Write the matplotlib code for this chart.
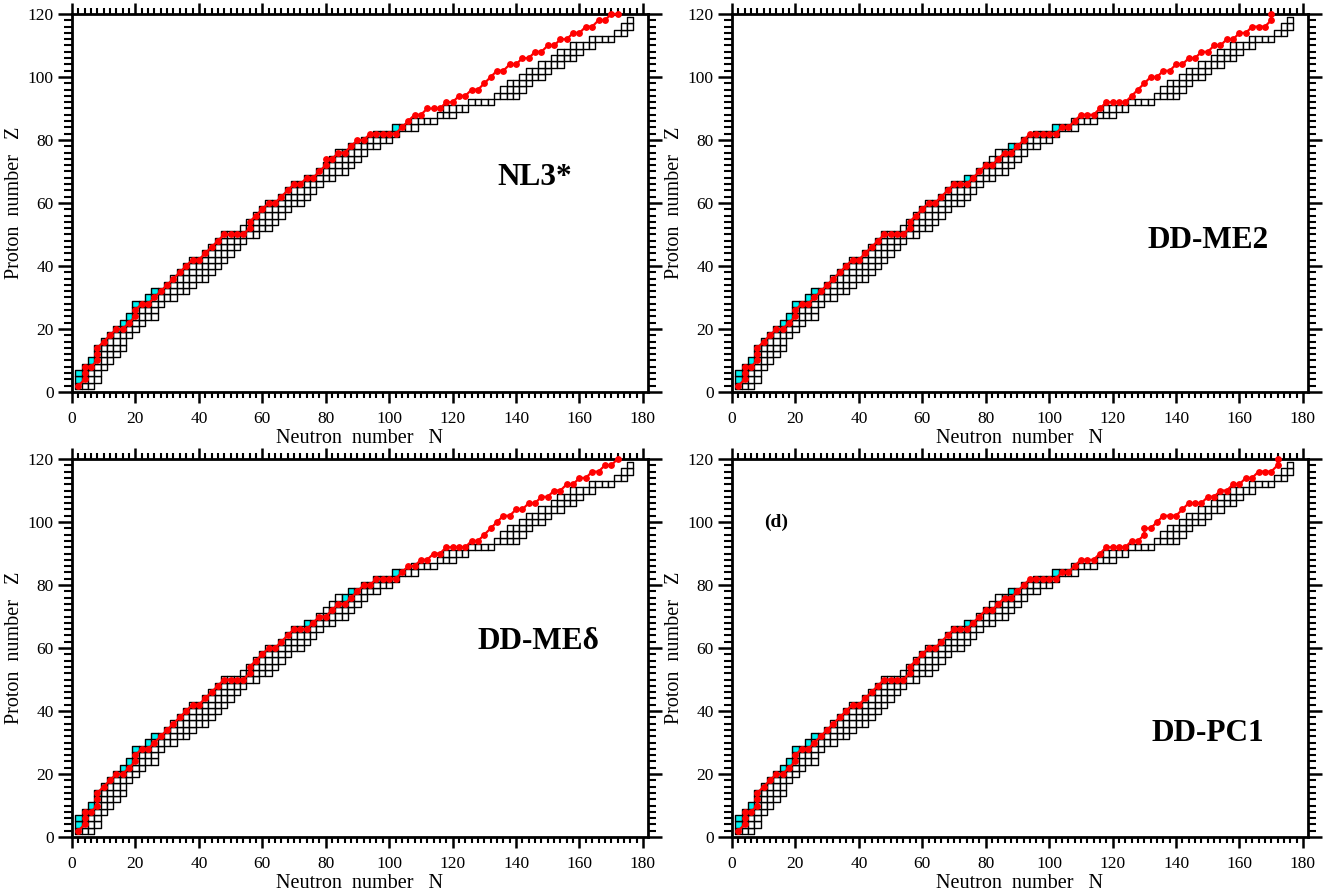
import matplotlib
matplotlib.use("Agg")
import matplotlib.pyplot as plt
from matplotlib.patches import Rectangle
from matplotlib.collections import PatchCollection
from matplotlib.ticker import MultipleLocator

plt.rcParams['font.family'] = ['Liberation Serif', 'DejaVu Serif']

# ---- squares: rows of even-even nuclei (Z, first N, last N) ----
sq_Z    = [2, 4, 6, 8, 10, 12, 14, 16, 18, 20, 22, 24, 26, 28, 30, 32, 34, 36, 38, 40,
           42, 44, 46, 48, 50, 52, 54, 56, 58, 60, 62, 64, 66, 68, 70, 72, 74, 76, 78, 80,
           82, 84, 86, 88, 90, 92, 94, 96, 98, 100, 102, 104, 106, 108, 110, 112, 114, 116, 118]
sq_Nmin = [2, 2, 2, 4, 6, 8, 8, 10, 12, 14, 16, 18, 20, 20, 24, 26, 30, 32, 34, 36,
           38, 42, 44, 46, 48, 54, 56, 58, 60, 62, 66, 68, 70, 74, 78, 80, 82, 84, 88, 92,
           96, 102, 108, 116, 118, 126, 134, 136, 138, 142, 144, 148, 152, 154, 158, 164, 172, 174, 176]
sq_Nmax = [6, 8, 8, 10, 12, 14, 16, 16, 18, 20, 22, 26, 26, 28, 32, 36, 38, 42, 44, 46,
           48, 50, 52, 54, 58, 62, 64, 66, 68, 72, 74, 76, 78, 82, 86, 88, 90, 92, 96, 100,
           102, 108, 114, 120, 124, 132, 140, 142, 144, 148, 150, 154, 158, 160, 164, 170, 174, 176, 176]

# ---- cyan (two-proton unbound) squares ----
cyan_N = [2, 2, 4, 6, 8, 10, 12, 14, 16, 18, 20, 24, 26, 30, 74, 86, 88, 92, 96, 102]
cyan_Z = [4, 6, 8, 10, 14, 16, 18, 20, 22, 24, 28, 30, 32, 34, 68, 76, 78, 80, 82, 84]

# ---- two-proton drip lines ----
low_N = [2, 4, 4, 4, 6, 8, 8, 8, 10, 12, 14, 16, 18, 20, 20, 22, 24, 26, 28, 30, 32, 34, 36, 38, 40,
         42, 44, 46, 48, 50, 52, 54, 56, 56, 58, 60, 62, 64, 66, 68, 70]
low_Z = [2, 4, 6, 8, 8, 10, 12, 14, 16, 18, 20, 20, 22, 24, 26, 28, 28, 30, 32, 34, 36, 38, 40, 42, 42,
         44, 46, 48, 50, 50, 50, 50, 52, 54, 56, 58, 60, 60, 62, 64, 66]

nl3_N = [72, 74, 76, 78, 80, 80, 82, 84, 86, 88, 90, 92, 94, 96, 98, 100, 102, 104, 106, 108, 110, 112,
         114, 116, 118, 120, 122, 124, 126, 128, 130, 132, 134, 136, 138, 140, 142, 144, 146, 148, 150,
         152, 154, 156, 158, 160, 162, 164, 166, 168, 170, 172]
nl3_Z = [66, 68, 68, 70, 72, 74, 74, 76, 76, 78, 80, 80, 82, 82, 82, 82, 82, 84, 86, 88, 88, 90,
         90, 90, 92, 92, 94, 94, 96, 96, 98, 100, 102, 102, 104, 104, 106, 106, 108, 108, 110,
         110, 112, 112, 114, 114, 116, 116, 118, 118, 120, 120]

me2_N = [72, 74, 76, 78, 80, 82, 84, 86, 88, 90, 92, 94, 96, 98, 100, 102, 104, 106, 108, 110, 112, 114,
         116, 118, 120, 122, 124, 126, 128, 130, 132, 134, 136, 138, 140, 142, 144, 146, 148, 150, 152,
         154, 156, 158, 160, 162, 164, 166, 168, 170, 170]
me2_Z = [66, 66, 68, 70, 72, 72, 74, 76, 76, 78, 80, 82, 82, 82, 82, 82, 84, 84, 86, 88, 88, 88,
         90, 92, 92, 92, 92, 94, 96, 98, 100, 100, 102, 102, 104, 104, 106, 106, 108, 108, 110,
         110, 112, 112, 114, 114, 116, 116, 116, 118, 120]

med_N = [72, 74, 76, 78, 80, 82, 84, 86, 88, 90, 92, 94, 96, 98, 100, 102, 104, 106, 108, 110, 112, 114,
         116, 118, 120, 122, 124, 126, 128, 130, 132, 134, 136, 138, 140, 142, 144, 146, 148, 150, 152,
         154, 156, 158, 160, 162, 164, 166, 168, 170, 172]
med_Z = [66, 66, 68, 70, 70, 72, 74, 74, 76, 78, 80, 80, 82, 82, 82, 82, 84, 86, 86, 88, 88, 90,
         90, 92, 92, 92, 92, 94, 94, 96, 98, 100, 102, 102, 104, 104, 106, 106, 108, 108, 110,
         110, 112, 112, 114, 114, 116, 116, 118, 118, 120]

pc1_N = [72, 74, 76, 78, 80, 82, 84, 86, 88, 90, 92, 94, 96, 98, 100, 102, 104, 106, 108, 110, 112, 114,
         116, 118, 120, 122, 124, 126, 128, 130, 130, 132, 134, 136, 138, 140, 142, 144, 146, 148, 150,
         152, 154, 156, 158, 160, 162, 164, 166, 168, 170, 172, 172]
pc1_Z = [66, 66, 68, 70, 72, 72, 74, 76, 76, 78, 80, 82, 82, 82, 82, 82, 84, 84, 86, 88, 88, 88,
         90, 92, 92, 92, 92, 94, 94, 96, 98, 98, 100, 102, 102, 102, 104, 106, 106, 106, 108,
         108, 110, 110, 112, 112, 114, 114, 116, 116, 116, 118, 120]

panel_names = ["NL3*", "DD-ME2", "DD-ME\u03b4", "DD-PC1"]
panel_lines = [(nl3_N, nl3_Z), (me2_N, me2_Z), (med_N, med_Z), (pc1_N, pc1_Z)]
name_pos = [(146, 68), (150, 48), (147, 62), (150, 33)]

fig = plt.figure(figsize=(13.36, 8.92), dpi=100)
W, H = 1336, 892
boxes = [(72, 648, 392, 14), (732, 1308, 392, 14), (72, 648, 837, 459), (732, 1308, 837, 459)]

cyan_set = set(zip(cyan_N, cyan_Z))

for k, (l, r, b, t) in enumerate(boxes):
    ax = fig.add_axes([l / W, 1 - b / H, (r - l) / W, (b - t) / H])
    ax.set_xlim(0, 181.6)
    ax.set_ylim(0, 120)
    white, cyan = [], []
    for z, n0, n1 in zip(sq_Z, sq_Nmin, sq_Nmax):
        for n in range(n0, n1 + 1, 2):
            if (n, z) not in cyan_set:
                white.append(Rectangle((n - 1, z - 1), 2, 2))
    for n, z in zip(cyan_N, cyan_Z):
        cyan.append(Rectangle((n - 1, z - 1), 2, 2))
    ax.add_collection(PatchCollection(white, facecolor='white', edgecolor='black', linewidth=1.0, zorder=2))
    ax.add_collection(PatchCollection(cyan, facecolor='#00F2F2', edgecolor='black', linewidth=1.0, zorder=2.5))
    uN, uZ = panel_lines[k]
    NN = low_N + uN
    ZZ = low_Z + uZ
    ax.plot(NN, ZZ, color='#FF0000', lw=1.6, marker='o', ms=3.9, mec='#FF0000', mfc='#FF0000', zorder=3,
            clip_on=False)
    ax.text(name_pos[k][0], name_pos[k][1], panel_names[k], fontsize=22.5, fontweight='bold',
            ha='center', va='center')
    if k == 3:
        ax.text(14, 100, "(d)", fontsize=14, fontweight='bold', ha='center', va='center')

    ax.xaxis.set_major_locator(MultipleLocator(20))
    ax.xaxis.set_minor_locator(MultipleLocator(2))
    ax.yaxis.set_major_locator(MultipleLocator(20))
    ax.yaxis.set_minor_locator(MultipleLocator(2))
    ax.tick_params(which='both', direction='out', top=True, right=True, labelsize=12.5)
    ax.tick_params(axis='x', which='major', length=8, width=1.8, pad=6)
    ax.tick_params(axis='x', which='minor', length=4.5, width=1.5)
    ax.tick_params(axis='y', which='major', length=10, width=1.8, pad=3)
    ax.tick_params(axis='y', which='minor', length=5.5, width=1.5)
    for s in ax.spines.values():
        s.set_linewidth(2)
    ax.set_xlabel("Neutron  number   N", fontsize=14.5, labelpad=1)
    ax.set_ylabel("Proton  number   Z", fontsize=14.5, labelpad=3)

fig.savefig("out.png", dpi=100)
